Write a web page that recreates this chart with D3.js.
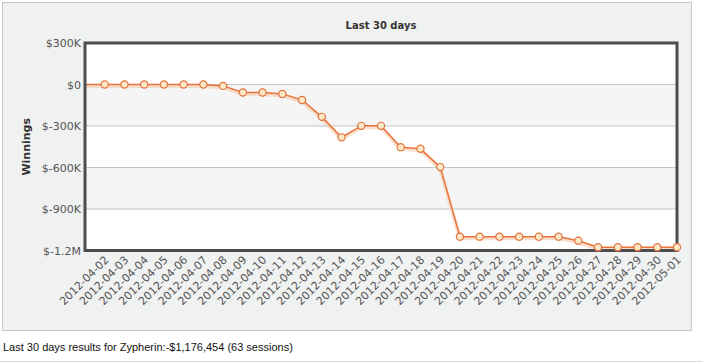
<!DOCTYPE html>
<html><head><meta charset="utf-8">
<script src="https://cdn.jsdelivr.net/npm/d3@7"></script>
<style>
html,body{margin:0;padding:0;background:#fff;}
svg{display:block;}
</style></head>
<body>
<svg id="c" width="702" height="364"></svg>
<script>
const dates = ["2012-04-01","2012-04-02","2012-04-03","2012-04-04","2012-04-05","2012-04-06","2012-04-07","2012-04-08","2012-04-09","2012-04-10","2012-04-11","2012-04-12","2012-04-13","2012-04-14","2012-04-15","2012-04-16","2012-04-17","2012-04-18","2012-04-19","2012-04-20","2012-04-21","2012-04-22","2012-04-23","2012-04-24","2012-04-25","2012-04-26","2012-04-27","2012-04-28","2012-04-29","2012-04-30","2012-05-01"];
const winnings = [0,0,0,0,0,0,0,-10000,-58000,-58000,-68000,-112000,-234000,-382000,-299000,-299000,-453000,-465000,-597000,-1100000,-1100000,-1100000,-1100000,-1100000,-1100000,-1130000,-1176454,-1176454,-1176454,-1176454,-1176454];
const yTicks = [300000,0,-300000,-600000,-900000,-1200000];
const yTickLabels = ["$300K","$0","$-300K","$-600K","$-900K","$-1.2M"];
const title = "Last 30 days";
const yTitle = "Winnings";
const caption = "Last 30 days results for Zypherin:-$1,176,454 (63 sessions)";

const svg = d3.select("#c");
const L = 85, R = 677, T = 43, B = 250.5;
const font = "'DejaVu Sans', Verdana, sans-serif";

// panel
svg.append("rect").attr("x",2.5).attr("y",2.5).attr("width",689).attr("height",328)
  .attr("fill","#f0f1f1").attr("stroke","#c8c8c8").attr("stroke-width",1);

const x = d3.scalePoint().domain(dates).range([L,R]);
const y = d3.scaleLinear().domain([-1200000,300000]).range([B,T]);

// plot bg and bands
svg.append("rect").attr("x",L).attr("y",T).attr("width",R-L).attr("height",B-T).attr("fill","#fff");
for (let i=0;i<yTicks.length-1;i++){
  if (i%2===1){
    svg.append("rect").attr("x",L).attr("y",y(yTicks[i])).attr("width",R-L)
      .attr("height",y(yTicks[i+1])-y(yTicks[i])).attr("fill","#f5f5f5");
  }
}
// grid
svg.append("g").selectAll("line").data(yTicks).join("line")
  .attr("x1",L).attr("x2",R).attr("y1",d=>y(d)).attr("y2",d=>y(d))
  .attr("stroke","#c4c4c4").attr("stroke-width",1);

// y labels
const ya = svg.append("g").attr("transform",`translate(${L-3},0)`)
  .call(d3.axisLeft(y).tickValues(yTicks).tickSize(0).tickFormat((d,i)=>yTickLabels[i]));
ya.select(".domain").remove();
ya.selectAll("text").attr("font-family",font).attr("font-size",11).attr("fill","#555").attr("dy","0.35em").attr("x",-1);

// x labels
const xa = svg.append("g").attr("transform",`translate(0,${B+3})`)
  .call(d3.axisBottom(x).tickValues(dates.slice(1)).tickSize(0));
xa.select(".domain").remove();
xa.selectAll("text").attr("font-family",font).attr("font-size",11).attr("fill","#555")
  .attr("text-anchor","end").attr("transform","rotate(-45)").attr("x",-2).attr("y",4).attr("dy","0.35em");

// line shadow + line
const line = d3.line().x((d,i)=>x(dates[i])).y(d=>y(d));
svg.append("path").datum(winnings).attr("d",line).attr("fill","none")
  .attr("stroke","#f6c9ad").attr("stroke-width",4).attr("stroke-linejoin","round").attr("opacity",0.6)
  .attr("transform","translate(0,1.5)");
svg.append("path").datum(winnings).attr("d",line).attr("fill","none")
  .attr("stroke","#e8743b").attr("stroke-width",1.5).attr("stroke-linejoin","round");

// frame
svg.append("rect").attr("x",L).attr("y",T).attr("width",R-L).attr("height",B-T)
  .attr("fill","none").attr("stroke","#4d4d4d").attr("stroke-width",3);

// markers
svg.append("g").selectAll("circle").data(winnings.slice(1)).join("circle")
  .attr("cx",(d,i)=>x(dates[i+1])).attr("cy",d=>y(d)).attr("r",3.6)
  .attr("fill","#fde8c8").attr("stroke","#e0723d").attr("stroke-width",1.2);

// titles
svg.append("text").attr("x",(L+R)/2).attr("y",29).attr("text-anchor","middle")
  .attr("font-family",font).attr("font-size",10).attr("font-weight","bold").attr("fill","#333").text(title);
svg.append("text").attr("transform",`translate(30,${(T+B)/2}) rotate(-90)`).attr("text-anchor","middle")
  .attr("font-family",font).attr("font-size",11).attr("font-weight","bold").attr("fill","#333").text(yTitle);

svg.append("text").attr("x",3).attr("y",351).attr("font-family","'Liberation Sans', Arial, sans-serif")
  .attr("font-size",11).attr("fill","#111").text(caption);
svg.append("line").attr("x1",0).attr("x2",702).attr("y1",361.5).attr("y2",361.5).attr("stroke","#ddd");
</script>
</body></html>
